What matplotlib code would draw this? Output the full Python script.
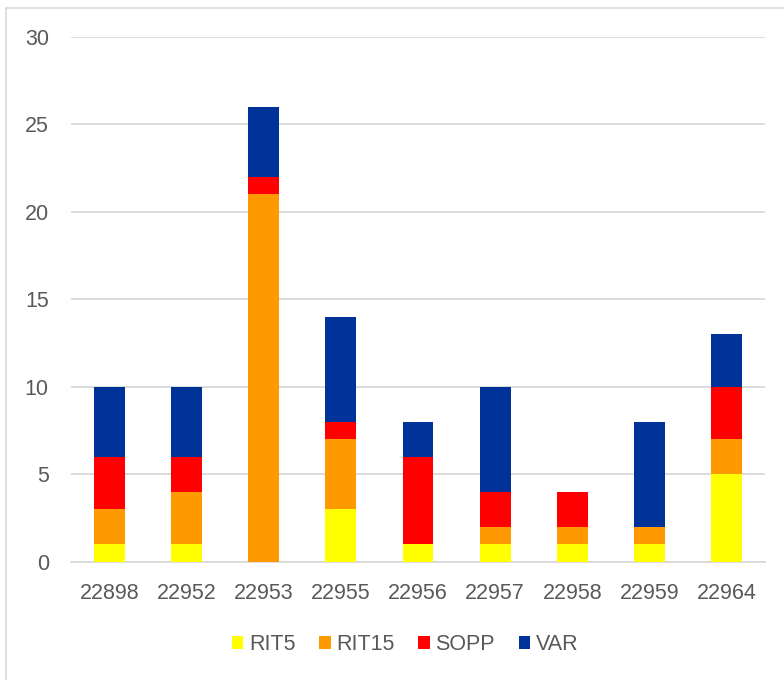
import numpy as np
import matplotlib.pyplot as plt
import matplotlib.patches as mpatches

plt.rcParams['font.family'] = ['Liberation Sans', 'DejaVu Sans']

#--------------data----------------------------------
ids = ['22898', '22952', '22953', '22955', '22956', '22957', '22958', '22959', '22964']
rit5 = [1, 1, 0, 3, 1, 1, 1, 1, 5]
rit15 = [2, 3, 21, 4, 0, 1, 1, 1, 2]
sopp = [3, 2, 1, 1, 5, 2, 2, 0, 3]
var = [4, 4, 4, 6, 2, 6, 0, 6, 3]

series = [('RIT5', rit5, '#FFFF00'),
          ('RIT15', rit15, '#FF9900'),
          ('SOPP', sopp, '#FF0000'),
          ('VAR', var, '#003399')]

text_col = '#595959'
grid_col = '#D9D9D9'
fs = 15.5

fig = plt.figure(figsize=(7.84, 6.8), dpi=100)
ax = fig.add_axes([71/784, 1 - 561.7/680, 694/784, 525/680])

x = np.arange(len(ids))
bottom = np.zeros(len(ids))
for name, vals, col in series:
    ax.bar(x, vals, width=0.4, bottom=bottom, color=col, label=name, zorder=3)
    bottom += np.array(vals)

ax.set_xlim(-0.5, len(ids) - 0.5)
ax.set_ylim(0, 30)
ax.set_yticks(range(0, 31, 5))
ax.set_xticks(x)
ax.set_xticklabels(ids)
ax.yaxis.grid(True, color=grid_col, linewidth=1.3, zorder=0)
for s in ['top', 'right', 'left']:
    ax.spines[s].set_visible(False)
ax.spines['bottom'].set_color(grid_col)
ax.spines['bottom'].set_linewidth(1.3)
ax.tick_params(axis='both', length=0, labelsize=fs, labelcolor=text_col)
ax.tick_params(axis='y', pad=16)
ax.tick_params(axis='x', pad=15)

leg = fig.legend(loc='center', bbox_to_anchor=(405/784, 1 - 645/680), ncol=4,
                 frameon=False, fontsize=fs, handlelength=0.55, handleheight=0.55,
                 handletextpad=0.25, columnspacing=1.1)
for t in leg.get_texts():
    t.set_color(text_col)

# chart area border
fig.patches.append(mpatches.Rectangle((5.5/784, -0.05), 1.1, 1 - 7.5/680 + 0.05,
                                      transform=fig.transFigure, fill=False,
                                      edgecolor=grid_col, linewidth=1.2))

fig.savefig('out.png', dpi=100)
